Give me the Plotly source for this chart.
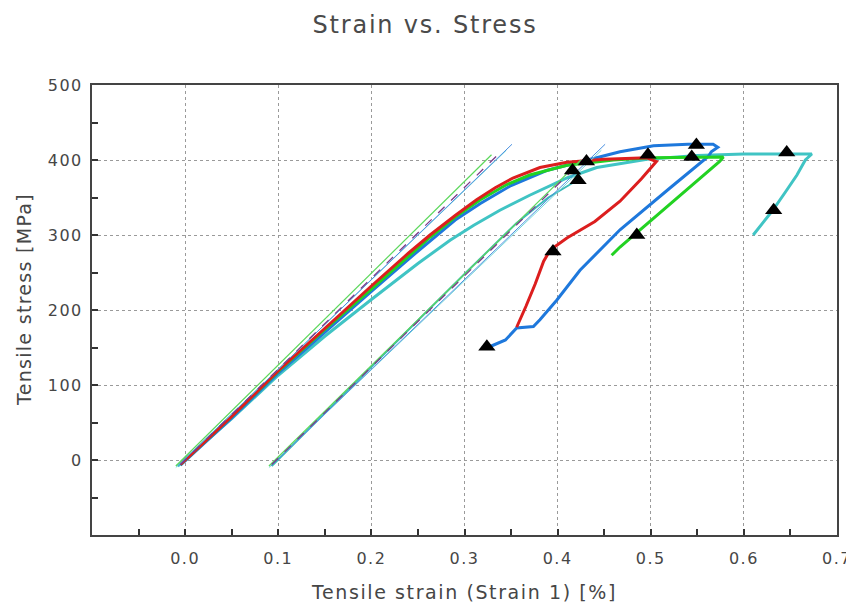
import plotly.graph_objects as go

# ---- data (strain in %, stress in MPa) ----
red_x = [-0.005, 0.05, 0.10, 0.15, 0.20, 0.24, 0.263, 0.29, 0.313, 0.333, 0.352, 0.381, 0.41,
         0.45, 0.496, 0.506, 0.49, 0.467, 0.44, 0.41, 0.392, 0.385, 0.376, 0.366, 0.356]
red_y = [-6, 58, 119, 176, 232, 276, 300, 326, 347, 363, 376, 390, 397,
         401, 403, 398, 375, 345, 318, 296, 280, 265, 235, 205, 177]

blue_x = [-0.005, 0.05, 0.10, 0.15, 0.20, 0.24, 0.266, 0.29, 0.317, 0.35, 0.388, 0.431,
          0.467, 0.503, 0.54, 0.567, 0.572, 0.565, 0.562, 0.52, 0.467, 0.424, 0.399, 0.381,
          0.374, 0.356, 0.344, 0.327]
blue_y = [-7, 56, 116, 171, 225, 268, 295, 320, 342, 366, 386, 400,
          411, 419, 421, 421, 417, 411, 405, 362, 307, 253, 213, 187,
          178, 176, 160, 151]

green_x = [-0.005, 0.05, 0.10, 0.15, 0.20, 0.24, 0.263, 0.29, 0.317, 0.345, 0.37, 0.41,
           0.46, 0.50, 0.567, 0.578, 0.574, 0.52, 0.467, 0.458]
green_y = [-6, 58, 118, 174, 228, 272, 297, 324, 347, 367, 380, 393,
           400, 403, 403, 404, 398, 340, 284, 273]

cyan_x = [-0.008, 0.05, 0.10, 0.15, 0.20, 0.25, 0.2845, 0.31, 0.338, 0.37, 0.41, 0.442,
          0.496, 0.55, 0.60, 0.673, 0.666, 0.657, 0.645, 0.631, 0.61]
cyan_y = [-8, 55, 113, 165, 214, 262, 293, 313, 333, 353, 376, 390,
          401, 406, 408, 408, 400, 380, 358, 333, 300]

teal2_x = [0.093, 0.2, 0.3, 0.356, 0.39, 0.421]
teal2_y = [-8, 125, 248, 316, 350, 373]

# thin modulus / offset lines: (start, end)
thin1_green_x = [-0.010, 0.329]; thin1_green_y = [-8, 407]
thin1_purple_x = [-0.005, 0.340]; thin1_purple_y = [-6, 412]
thin1_cyan_x = [-0.010, 0.345]; thin1_cyan_y = [-10, 413]
thin1_blue_x = [-0.008, 0.351]; thin1_blue_y = [-8, 421]

thin2_green_x = [0.090, 0.425]; thin2_green_y = [-8, 400]
thin2_purple_x = [0.093, 0.432]; thin2_purple_y = [-6, 406]
thin2_cyan_x = [0.090, 0.447]; thin2_cyan_y = [-10, 413]
thin2_blue_x = [0.092, 0.451]; thin2_blue_y = [-8, 421]

tri_x = [0.324, 0.395, 0.485, 0.632, 0.646, 0.549, 0.544, 0.497, 0.431, 0.416, 0.422]
tri_y = [151, 278, 300, 333, 410, 420, 404, 407, 398, 386, 373]

x_tick_vals = [0.0, 0.1, 0.2, 0.3, 0.4, 0.5, 0.6, 0.7]
x_tick_text = ["0.0", "0.1", "0.2", "0.3", "0.4", "0.5", "0.6", "0.7"]
y_tick_vals = [0, 100, 200, 300, 400, 500]
y_tick_text = ["0", "100", "200", "300", "400", "500"]

RED = "#dc1e1e"
BLUE = "#1e78dc"
GREEN = "#22d222"
CYAN = "#40c4c4"
TEAL = "#3ab8b8"
THIN_GREEN = "#5cd85c"
THIN_PURPLE = "#7a3c8a"
THIN_CYAN = "#74d8d8"
THIN_BLUE = "#4a90e0"
FONT = "DejaVu Sans"
TXT = "#464646"


def sp(t, ls):
    return f'<span style="letter-spacing:{ls}px">{t}</span>'


fig = go.Figure()


def add_line(x, y, color, width, dash="solid"):
    fig.add_trace(go.Scatter(x=x, y=y, mode="lines",
                             line=dict(color=color, width=width, dash=dash),
                             hoverinfo="skip", showlegend=False))


# thick curves
add_line(teal2_x, teal2_y, TEAL, 2)
add_line(cyan_x, cyan_y, CYAN, 3)
add_line(blue_x, blue_y, BLUE, 3)
add_line(green_x, green_y, GREEN, 3)
add_line(red_x, red_y, RED, 3)

# thin lines
for (xx, yy, c, w, d) in [
    (thin1_cyan_x, thin1_cyan_y, THIN_CYAN, 1, "solid"),
    (thin1_blue_x, thin1_blue_y, THIN_BLUE, 1, "solid"),
    (thin1_green_x, thin1_green_y, THIN_GREEN, 1.2, "solid"),
    (thin1_purple_x, thin1_purple_y, THIN_PURPLE, 1.3, "dash"),
    (thin2_cyan_x, thin2_cyan_y, THIN_CYAN, 1, "solid"),
    (thin2_blue_x, thin2_blue_y, THIN_BLUE, 1, "solid"),
    (thin2_green_x, thin2_green_y, THIN_GREEN, 1.2, "solid"),
    (thin2_purple_x, thin2_purple_y, THIN_PURPLE, 1.3, "dash"),
]:
    add_line(xx, yy, c, w, d)

fig.add_trace(go.Scatter(x=tri_x, y=tri_y, mode="markers",
                         marker=dict(symbol="triangle-up", size=15, color="black"),
                         hoverinfo="skip", showlegend=False))

axis_common = dict(
    showline=True, linecolor="#444", linewidth=2, mirror=True, automargin=False,
    showgrid=True, gridcolor="#9a9a9a", gridwidth=1, griddash="dot",
    zeroline=False, ticks="inside", ticklen=6, tickwidth=2, tickcolor="#333",
    tickfont=dict(family=FONT, size=16, color=TXT),
)

fig.update_layout(
    width=854, height=605,
    margin=dict(l=84, r=25, t=77, b=78),
    paper_bgcolor="white", plot_bgcolor="white",
    title=dict(text=sp("Strain vs. Stress", 1.8), x=417 / 854, xref="container", xanchor="center",
               y=1 - 17 / 605, yref="container", yanchor="middle", automargin=False,
               font=dict(family=FONT, size=24, color="#4a4a4a")),
    xaxis=dict(range=[-0.1, 0.7], tickvals=x_tick_vals, ticktext=[sp(t, 1.5) for t in x_tick_text],
               minor=dict(dtick=0.05, tick0=0, ticks="inside", ticklen=6, tickwidth=2, tickcolor="#333", showgrid=False),
               ticklabelstandoff=8,
               title=dict(text=sp("Tensile strain (Strain 1) [%]", 1.6), standoff=18,
                          font=dict(family=FONT, size=19, color=TXT)),
               **axis_common),
    yaxis=dict(range=[-100, 500], tickvals=y_tick_vals, ticktext=[sp(t, 1.5) for t in y_tick_text],
               minor=dict(dtick=50, tick0=0, ticks="inside", ticklen=6, tickwidth=2, tickcolor="#333", showgrid=False),
               ticklabelstandoff=4,
               **axis_common),
    annotations=[dict(text=sp("Tensile stress [MPa]", 1.3), textangle=-90,
                      xref="paper", yref="paper", x=(16 - 84) / 745, y=(527 - 292) / 450,
                      xanchor="center", yanchor="middle", showarrow=False,
                      font=dict(family=FONT, size=19, color=TXT))],
)

fig.write_html("out.html")
